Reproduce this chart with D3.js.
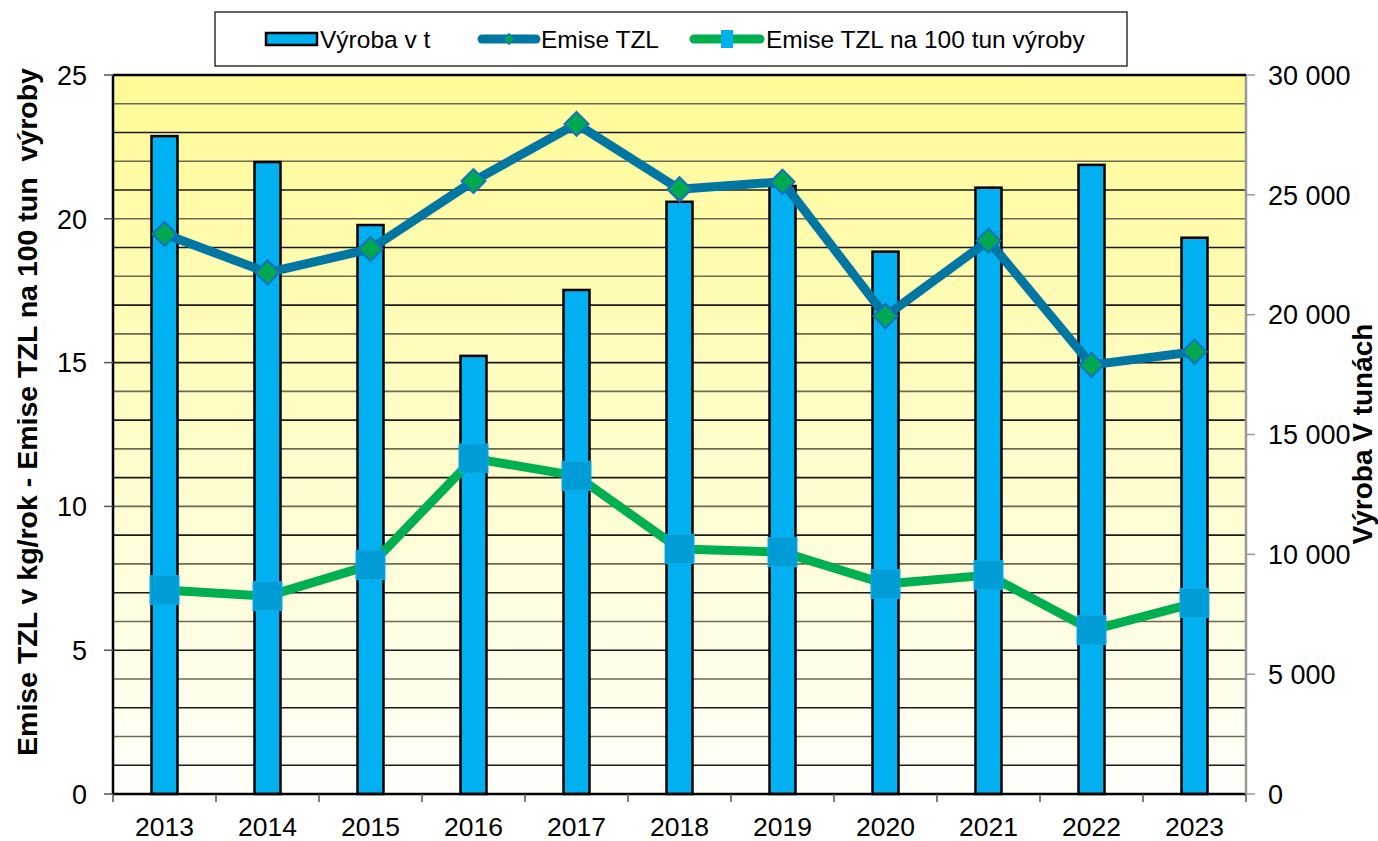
<!DOCTYPE html>
<html>
<head>
<meta charset="utf-8">
<script src="https://cdn.jsdelivr.net/npm/d3@7"></script>
<style>
  body { margin: 0; background: #fff; }
  text { font-family: "Liberation Sans", Arial, sans-serif; }
</style>
</head>
<body>
<div id="chart"></div>
<script>
var years = ["2013","2014","2015","2016","2017","2018","2019","2020","2021","2022","2023"];
var vyroba = [27450, 26370, 23740, 18280, 21030, 24710, 25370, 22630, 25300, 26250, 23210];
var emise = [19.47, 18.13, 18.95, 21.31, 23.30, 21.03, 21.29, 16.62, 19.24, 14.92, 15.38];
var emise100 = [7.09, 6.88, 7.96, 11.67, 11.06, 8.52, 8.41, 7.30, 7.61, 5.70, 6.64];
var leftTicks = [0, 5, 10, 15, 20, 25];
var rightTicks = [0, 5000, 10000, 15000, 20000, 25000, 30000];

var W = 1378, H = 841;
var margin = {top: 75, right: 132, bottom: 47, left: 113};
var width = W - margin.left - margin.right,
    height = H - margin.top - margin.bottom;

var svg = d3.select("#chart").append("svg")
    .attr("width", W)
    .attr("height", H);

var defs = svg.append("defs");
var grad = defs.append("linearGradient")
    .attr("id", "bg").attr("x1", 0).attr("y1", 0).attr("x2", 0).attr("y2", 1);
grad.append("stop").attr("offset", "0%").attr("stop-color", "#fffa96");
grad.append("stop").attr("offset", "100%").attr("stop-color", "#fffffa");

var x = d3.scaleBand().domain(years).range([0, width]);
var y = d3.scaleLinear().domain([0, 25]).range([height, 0]);
var y2 = d3.scaleLinear().domain([0, 30000]).range([height, 0]);

var g = svg.append("g")
    .attr("transform", "translate(" + margin.left + "," + margin.top + ")");

// plot background
g.append("rect")
    .attr("width", width)
    .attr("height", height)
    .attr("fill", "url(#bg)");

// gridlines every 1 unit
g.append("g")
    .selectAll("line")
    .data(d3.range(1, 26))
    .enter().append("line")
    .attr("x1", 0).attr("x2", width)
    .attr("y1", function(d) { return y(d); })
    .attr("y2", function(d) { return y(d); })
    .attr("stroke", function(d, i) { return i % 2 ? "#6b6b55" : "#1a1a1a"; })
    .attr("stroke-width", 1.6);

// bars
var barW = 26;
g.append("g")
    .selectAll("rect")
    .data(years)
    .enter().append("rect")
    .attr("x", function(d) { return x(d) + x.bandwidth() / 2 - barW / 2; })
    .attr("y", function(d, i) { return y2(vyroba[i]); })
    .attr("width", barW)
    .attr("height", function(d, i) { return height - y2(vyroba[i]); })
    .attr("fill", "#00b0f0")
    .attr("stroke", "#000")
    .attr("stroke-width", 2.5);

// x axis
var xAxis = g.append("g")
    .attr("transform", "translate(0," + height + ")");
xAxis.append("line")
    .attr("x1", 0).attr("x2", width)
    .attr("stroke", "#000").attr("stroke-width", 2.5);
xAxis.selectAll(".tk")
    .data(d3.range(0, years.length + 1))
    .enter().append("line")
    .attr("x1", function(d) { return d * x.step(); })
    .attr("x2", function(d) { return d * x.step(); })
    .attr("y1", 0).attr("y2", 8)
    .attr("stroke", "#555").attr("stroke-width", 1.5);
xAxis.selectAll("text")
    .data(years)
    .enter().append("text")
    .attr("x", function(d) { return x(d) + x.bandwidth() / 2; })
    .attr("y", 42)
    .attr("text-anchor", "middle")
    .style("font-size", "26.5px")
    .text(function(d) { return d; });

// left axis
var yAxis = g.append("g");
yAxis.append("line")
    .attr("x1", 0).attr("x2", 0).attr("y1", 0).attr("y2", height)
    .attr("stroke", "#000").attr("stroke-width", 2.5);
yAxis.selectAll(".tk")
    .data(leftTicks)
    .enter().append("line")
    .attr("x1", -9).attr("x2", 0)
    .attr("y1", function(d) { return y(d); })
    .attr("y2", function(d) { return y(d); })
    .attr("stroke", "#555").attr("stroke-width", 1.5);
yAxis.selectAll("text")
    .data(leftTicks)
    .enter().append("text")
    .attr("x", -26)
    .attr("y", function(d) { return y(d); })
    .attr("dy", "0.36em")
    .attr("text-anchor", "end")
    .style("font-size", "27px")
    .text(function(d) { return d; });

// right axis
var fmt = function(d) { return d3.format(",")(d).replace(/,/g, " "); };
var yAxis2 = g.append("g").attr("transform", "translate(" + width + ",0)");
yAxis2.append("line")
    .attr("x1", 0).attr("x2", 0).attr("y1", 0).attr("y2", height)
    .attr("stroke", "#999").attr("stroke-width", 2.5);
yAxis2.selectAll(".tk")
    .data(rightTicks)
    .enter().append("line")
    .attr("x1", 0).attr("x2", 9)
    .attr("y1", function(d) { return y2(d); })
    .attr("y2", function(d) { return y2(d); })
    .attr("stroke", "#999").attr("stroke-width", 1.5);
yAxis2.selectAll("text")
    .data(rightTicks)
    .enter().append("text")
    .attr("x", 22)
    .attr("y", function(d) { return y2(d); })
    .attr("dy", "0.36em")
    .style("font-size", "27px")
    .text(fmt);

// top border of plot
g.append("line")
    .attr("x1", 0).attr("x2", width).attr("y1", 0).attr("y2", 0)
    .attr("stroke", "#000").attr("stroke-width", 2.5);

// lines
var cx = function(i) { return x(years[i]) + x.bandwidth() / 2; };
var line1 = d3.line()
    .x(function(d, i) { return cx(i); })
    .y(function(d) { return y(d); });

g.append("path")
    .datum(emise)
    .attr("d", line1)
    .attr("fill", "none")
    .attr("stroke", "#0077a3")
    .attr("stroke-width", 9)
    .attr("stroke-linejoin", "round");

g.append("path")
    .datum(emise100)
    .attr("d", line1)
    .attr("fill", "none")
    .attr("stroke", "#00b050")
    .attr("stroke-width", 9)
    .attr("stroke-linejoin", "round");

// diamond markers
g.append("g")
    .selectAll("path")
    .data(emise)
    .enter().append("path")
    .attr("d", d3.symbol().type(d3.symbolSquare).size(290))
    .attr("transform", function(d, i) { return "translate(" + cx(i) + "," + y(d) + ") rotate(45)"; })
    .attr("fill", "#00a84f")
    .attr("stroke", "#1a6fc0")
    .attr("stroke-width", 2);

// square markers
var sq = 29;
g.append("g")
    .selectAll("rect")
    .data(emise100)
    .enter().append("rect")
    .attr("x", function(d, i) { return cx(i) - sq / 2; })
    .attr("y", function(d) { return y(d) - sq / 2; })
    .attr("width", sq).attr("height", sq)
    .attr("fill", "#009cd8")
    .attr("stroke", "#12a8e0")
    .attr("stroke-width", 1);

// axis titles
svg.append("text")
    .attr("transform", "translate(37,412) rotate(-90)")
    .attr("text-anchor", "middle")
    .style("font-size", "28.5px")
    .style("font-weight", "bold")
    .style("white-space", "pre")
    .attr("xml:space", "preserve")
    .text("Emise TZL v kg/rok - Emise TZL na 100 tun  výroby");

svg.append("text")
    .attr("transform", "translate(1372,434) rotate(-90)")
    .attr("text-anchor", "middle")
    .style("font-size", "28px")
    .style("font-weight", "bold")
    .text("Výroba V tunách");

// legend
var legend = svg.append("g");
legend.append("rect")
    .attr("x", 215).attr("y", 12).attr("width", 912).attr("height", 54)
    .attr("fill", "#fff").attr("stroke", "#000").attr("stroke-width", 1.2);

legend.append("rect")
    .attr("x", 266).attr("y", 33).attr("width", 51).attr("height", 12)
    .attr("fill", "#00b0f0").attr("stroke", "#000").attr("stroke-width", 2.5);
legend.append("text")
    .attr("x", 320).attr("y", 48)
    .style("font-size", "24.5px")
    .text("Výroba v t");

legend.append("line")
    .attr("x1", 482).attr("x2", 536).attr("y1", 39).attr("y2", 39)
    .attr("stroke", "#0077a3").attr("stroke-width", 9).attr("stroke-linecap", "round");
legend.append("path")
    .attr("d", d3.symbol().type(d3.symbolSquare).size(60))
    .attr("transform", "translate(509,39) rotate(45)")
    .attr("fill", "#00a84f").attr("stroke", "#1a6fc0").attr("stroke-width", 1);
legend.append("text")
    .attr("x", 541).attr("y", 48)
    .style("font-size", "24.5px")
    .text("Emise TZL");

legend.append("line")
    .attr("x1", 694).attr("x2", 760).attr("y1", 39).attr("y2", 39)
    .attr("stroke", "#00b050").attr("stroke-width", 9).attr("stroke-linecap", "round");
legend.append("rect")
    .attr("x", 721).attr("y", 30).attr("width", 12).attr("height", 18)
    .attr("fill", "#00b0f0");
legend.append("text")
    .attr("x", 766).attr("y", 48)
    .style("font-size", "24.5px")
    .text("Emise TZL na 100 tun výroby");
</script>
</body>
</html>
